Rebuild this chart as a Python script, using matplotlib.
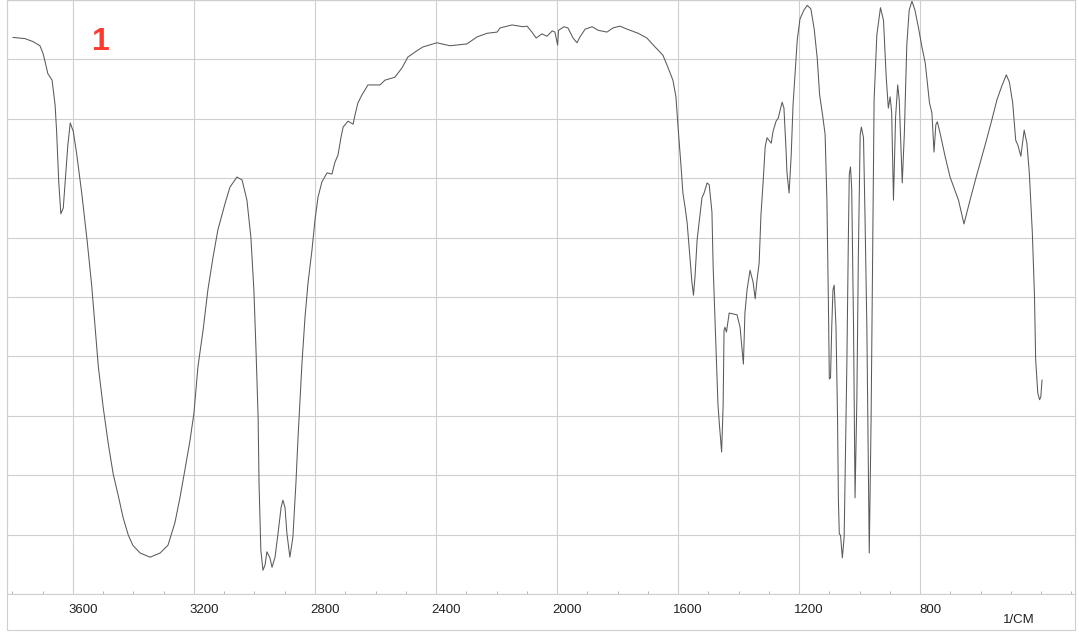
import matplotlib
matplotlib.use("Agg")
import matplotlib.pyplot as plt
from matplotlib.patches import Rectangle
from matplotlib.transforms import ScaledTranslation
from matplotlib.ticker import MultipleLocator

# IR spectrum, wavenumber (1/cm) vs transmittance (%)
wavenumber = [
    3798, 3759, 3732, 3709, 3699, 3692, 3683, 3669, 3659, 3654, 3647, 3640, 3632, 3624,
    3617, 3609, 3599, 3588, 3571, 3553, 3538, 3527, 3516, 3500, 3483, 3467, 3450, 3434,
    3417, 3402, 3378, 3345, 3312, 3286, 3263, 3246, 3230, 3213, 3200, 3187, 3170, 3154,
    3137, 3121, 3097, 3081, 3058, 3041, 3025, 3012, 3002, 2995, 2988, 2985, 2979, 2972,
    2965, 2959, 2949, 2942, 2932, 2922, 2912, 2906, 2899, 2893, 2883, 2873, 2863, 2856,
    2843, 2833, 2823, 2810, 2800, 2790, 2777, 2760, 2744, 2734, 2724, 2714, 2707, 2691,
    2674, 2668, 2658, 2645, 2625, 2585, 2569, 2536, 2512, 2493, 2459, 2443, 2397, 2354,
    2298, 2264, 2231, 2198, 2188, 2149, 2112, 2099, 2083, 2069, 2050, 2033, 2016, 2007,
    1998, 1995, 1977, 1964, 1947, 1934, 1924, 1907, 1884, 1864, 1835, 1815, 1792, 1769,
    1732, 1703, 1676, 1650, 1633, 1617, 1607, 1600, 1590, 1584, 1577, 1570, 1560, 1554,
    1549, 1544, 1537, 1527, 1521, 1514, 1504, 1497, 1488, 1484, 1474, 1468, 1463, 1456,
    1451, 1448, 1445, 1440, 1431, 1405, 1395, 1389, 1384, 1379, 1372, 1362, 1352, 1345,
    1339, 1332, 1326, 1319, 1312, 1306, 1292, 1286, 1276, 1269, 1256, 1250, 1243, 1240,
    1233, 1226, 1220, 1213, 1206, 1197, 1184, 1173, 1161, 1150, 1140, 1132, 1122, 1114,
    1108, 1103, 1100, 1096, 1092, 1088, 1084, 1078, 1073, 1070, 1067, 1063, 1057, 1051,
    1042, 1037, 1034, 1030, 1026, 1020, 1015, 1009, 1004, 998, 994, 987, 982, 976,
    972, 968, 962, 956, 952, 943, 931, 921, 912, 905, 899, 894, 888, 881,
    874, 869, 859, 852, 844, 836, 827, 817, 806, 794, 783, 776, 769, 761,
    754, 748, 743, 734, 717, 701, 673, 655, 635, 613, 585, 563, 546, 530,
    515, 505, 494, 484, 477, 467, 456, 447, 439, 429, 422, 418, 411, 405,
    401, 397,
]
transmittance = [
    93.7, 93.5, 93.0, 92.3, 91.0, 89.6, 87.6, 86.5, 82.3, 77.9, 69.4, 64.0, 65.0, 70.5,
    75.5, 79.3, 77.9, 74.2, 67.5, 59.4, 51.9, 45.1, 38.2, 31.4, 25.2, 20.2, 16.5, 12.8,
    9.9, 8.2, 6.9, 6.2, 6.9, 8.2, 12.0, 16.3, 20.9, 25.9, 30.5, 38.2, 44.4, 51.2,
    56.7, 61.3, 65.8, 68.5, 70.2, 69.7, 66.3, 60.1, 51.2, 41.1, 29.8, 18.7, 7.4, 4.0,
    4.9, 7.1, 6.1, 4.5, 6.2, 10.3, 14.6, 15.8, 14.5, 10.3, 6.2, 9.6, 18.7, 26.4,
    38.9, 46.6, 52.4, 57.9, 63.0, 66.8, 69.4, 70.9, 70.7, 72.7, 73.9, 76.9, 78.6, 79.6,
    79.1, 80.6, 82.7, 84.0, 85.7, 85.7, 86.5, 87.0, 88.6, 90.4, 91.6, 92.1, 92.8, 92.3,
    92.6, 93.8, 94.4, 94.6, 95.3, 95.8, 95.5, 95.6, 94.6, 93.6, 94.3, 93.9, 94.8, 94.6,
    92.4, 94.9, 95.5, 95.3, 93.6, 92.8, 93.8, 95.1, 95.5, 94.9, 94.6, 95.3, 95.6, 95.1,
    94.4, 93.6, 92.1, 90.7, 88.6, 86.5, 83.7, 78.6, 71.9, 67.5, 65.2, 62.5, 56.2, 52.4,
    50.3, 53.4, 59.6, 64.1, 66.7, 67.5, 69.2, 68.9, 64.3, 55.1, 40.2, 31.8, 28.3, 23.9,
    31.8, 44.4, 44.9, 44.1, 47.3, 47.0, 44.9, 41.6, 38.7, 47.3, 51.2, 54.5, 52.5, 49.7,
    52.9, 55.7, 63.8, 69.2, 75.3, 76.8, 75.9, 77.9, 79.6, 80.1, 82.8, 81.8, 74.7, 70.9,
    67.5, 73.9, 82.3, 87.9, 93.3, 96.8, 98.3, 99.1, 98.5, 95.1, 90.2, 84.0, 80.5, 77.4,
    66.3, 48.7, 36.2, 36.4, 45.0, 51.2, 52.0, 45.0, 30.1, 15.8, 10.1, 9.9, 6.1, 9.6,
    38.9, 60.3, 70.7, 71.9, 68.2, 45.0, 16.2, 32.8, 57.2, 77.4, 78.6, 76.8, 63.3, 45.0,
    26.6, 6.9, 29.3, 60.8, 83.2, 94.1, 98.7, 96.6, 87.0, 81.8, 83.7, 81.1, 66.3, 80.3,
    85.7, 83.2, 69.2, 77.6, 92.4, 98.3, 99.8, 98.3, 95.5, 92.1, 89.4, 86.0, 82.7, 81.0,
    74.4, 79.0, 79.5, 77.6, 73.6, 70.2, 66.3, 62.3, 66.3, 70.5, 75.6, 79.8, 83.2, 85.5,
    87.4, 86.2, 82.7, 76.4, 75.6, 73.7, 78.1, 75.9, 70.9, 60.8, 50.3, 39.4, 33.8, 32.7,
    33.2, 36.0,
]
x_ticks = [3600, 3200, 2800, 2400, 2000, 1600, 1200, 800]
sample_label = "1"
x_unit = "1/CM"

W, H, DPI = 1079, 635, 100
fig = plt.figure(figsize=(W / DPI, H / DPI), dpi=DPI)
ax = fig.add_axes([7 / W, 41 / H, 1068 / W, 594 / H])

grid_c = "#cfcfcf"
ax.plot(wavenumber, transmittance, color="#5a5a5a", lw=0.75, zorder=3)
ax.set_xlim(3818, 288)
ax.set_ylim(0, 100)
ax.set_xticks(x_ticks)
ax.xaxis.set_minor_locator(MultipleLocator(100))
ax.set_yticks(range(0, 101, 10))
ax.set_yticklabels([])
ax.grid(True, which="major", color=grid_c, lw=0.8, zorder=0)
ax.tick_params(axis="y", length=0)
ax.tick_params(axis="x", which="major", length=0, pad=7, labelsize=9.5, labelcolor="#222222")
ax.tick_params(axis="x", which="minor", length=2.5, direction="in", color="#aaaaaa")
for s in ax.spines.values():
    s.set_color(grid_c)
    s.set_linewidth(0.8)

# tick labels sit a little to the right of their grid lines
shift = ScaledTranslation(10 / DPI, 0, fig.dpi_scale_trans)
for lab in ax.get_xticklabels():
    lab.set_transform(lab.get_transform() + shift)
    lab.set_fontfamily("Liberation Sans")

ax.text(1019 / W, 15 / H, x_unit, transform=fig.transFigure, ha="center", va="center",
        fontsize=9.5, family="Liberation Sans", color="#222222")
ax.text(101 / W, 1 - 42 / H, sample_label, transform=fig.transFigure, ha="center",
        va="center", fontsize=23, fontweight="bold", family="Liberation Sans",
        color="#ff3b30")

fig.add_artist(Rectangle((7 / W, 5 / H), 1068 / W, 630 / H, transform=fig.transFigure,
                         fill=False, edgecolor=grid_c, lw=0.8))

fig.savefig("out.png", dpi=DPI)
